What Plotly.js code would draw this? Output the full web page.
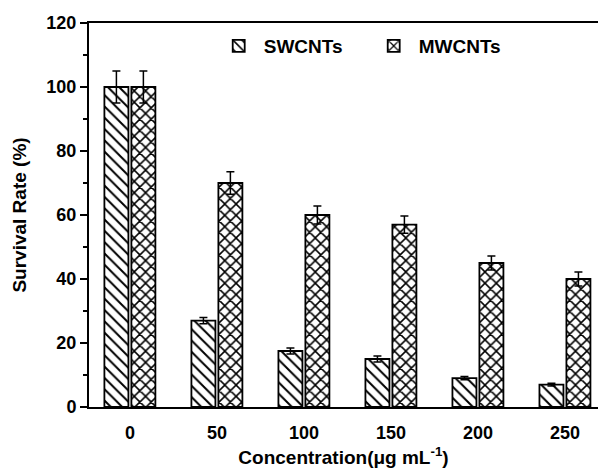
<!DOCTYPE html>
<html>
<head>
<meta charset="utf-8">
<script src="https://cdn.plot.ly/plotly-3.0.1.min.js"></script>
<style>html,body{margin:0;padding:0;background:#fff;}#chart{width:598px;height:474px;}</style>
</head>
<body>
<div id="chart"></div>
<script>
const categories = ['0', '50', '100', '150', '200', '250'];
const swcnt = [100, 27, 17.5, 15, 9, 7];
const swcntErr = [5, 1, 0.9, 0.9, 0.5, 0.4];
const mwcnt = [100, 70, 60, 57, 45, 40];
const mwcntErr = [5, 3.5, 2.8, 2.7, 2.2, 2.2];
const yTicks = [0, 20, 40, 60, 80, 100, 120];

const font = 'Arial, "Liberation Sans", sans-serif';

const traces = [
  {
    type: 'bar', name: 'SWCNTs', x: categories, y: swcnt,
    error_y: {type: 'data', array: swcntErr, color: '#000', thickness: 1.5, width: 4},
    marker: {color: '#fff', line: {color: '#000', width: 1.8},
      pattern: {shape: '\\', fgcolor: '#000', bgcolor: '#fff', size: 8, solidity: 0.25}}
  },
  {
    type: 'bar', name: 'MWCNTs', x: categories, y: mwcnt,
    error_y: {type: 'data', array: mwcntErr, color: '#000', thickness: 1.5, width: 4},
    marker: {color: '#fff', line: {color: '#000', width: 1.8},
      pattern: {shape: 'x', fgcolor: '#000', bgcolor: '#fff', size: 8, solidity: 0.35}}
  }
];

const layout = {
  width: 598, height: 474,
  margin: {l: 89, r: 0, t: 23, b: 67},
  paper_bgcolor: '#fff', plot_bgcolor: '#fff',
  font: {family: font, color: '#000'},
  barmode: 'group', bargap: 0.38, bargroupgap: 0.11,
  showlegend: true,
  legend: {orientation: 'h', x: 0.245, y: 0.94, xanchor: 'left', yanchor: 'middle',
    font: {size: 19, family: font, weight: 'bold'}, bgcolor: 'rgba(0,0,0,0)',
    itemwidth: 40, entrywidth: 100},
  xaxis: {
    type: 'category', range: [-0.47, 5.38],
    showline: true, linecolor: '#000', linewidth: 2, mirror: true,
    ticks: '', showgrid: false, zeroline: false,
    ticklabelstandoff: 8,
    tickfont: {size: 18, family: font, weight: 'bold'},
    title: {text: 'Concentration(μg mL<sup>-1</sup>)', font: {size: 19, family: font, weight: 'bold'}, standoff: 9}
  },
  yaxis: {
    range: [0, 120], tickvals: yTicks,
    showline: true, linecolor: '#000', linewidth: 2,
    ticks: 'outside', ticklen: 7, tickwidth: 2, tickcolor: '#000',
    minor: {dtick: 10, ticks: 'outside', ticklen: 4, tickwidth: 2, tickcolor: '#000', showgrid: false},
    showgrid: false, zeroline: false,
    tickfont: {size: 18, family: font, weight: 'bold'},
    title: {text: 'Survival Rate (%)', font: {size: 19, family: font, weight: 'bold'}, standoff: 15}
  }
};

Plotly.newPlot('chart', traces, layout, {displayModeBar: false, staticPlot: true});
</script>
</body>
</html>
